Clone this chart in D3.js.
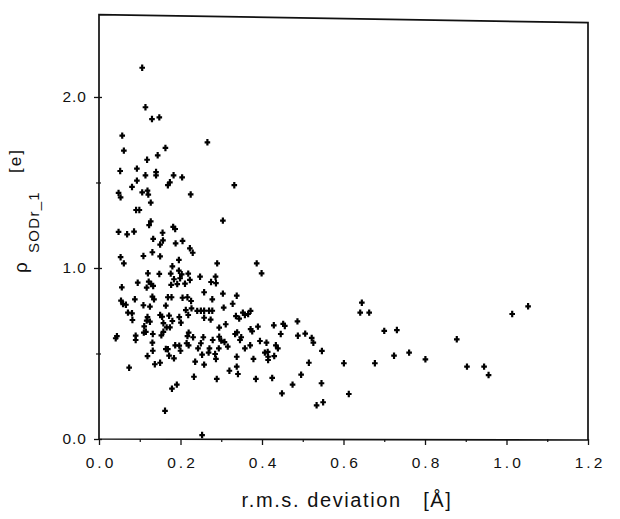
<!DOCTYPE html>
<html>
<head>
<meta charset="utf-8">
<script src="https://cdn.jsdelivr.net/npm/d3@7/dist/d3.min.js"></script>
<style>
  html, body { margin: 0; padding: 0; background: #fff; }
  svg { display: block; }
  text { font-family: "Liberation Sans", Arial, Helvetica, sans-serif; fill: #111; }
</style>
</head>
<body>
<svg id="chart" width="620" height="519"></svg>
<script>
// r.m.s. deviation [Å]
const rmsd = [
  0.106,0.114,0.130,0.148,0.057,0.266,0.061,0.163,0.118,0.144,
  0.052,0.093,0.114,0.140,0.140,0.183,0.204,0.093,0.081,0.169,
  0.174,0.332,0.048,0.053,0.106,0.119,0.121,0.225,0.127,0.091,
  0.099,0.127,0.123,0.304,0.182,0.187,0.048,0.069,0.086,0.156,
  0.133,0.157,0.150,0.188,0.205,0.223,0.230,0.131,0.109,0.150,
  0.196,0.053,0.061,0.180,0.120,0.148,0.176,0.196,0.203,0.219,
  0.184,0.199,0.223,0.192,0.211,0.177,0.095,0.122,0.128,0.133,
  0.117,0.056,0.131,0.135,0.169,0.178,0.205,0.217,0.226,0.054,
  0.059,0.066,0.088,0.109,0.125,0.164,0.213,0.227,0.241,0.071,
  0.081,0.082,0.150,0.155,0.172,0.197,0.119,0.117,0.125,0.111,
  0.158,0.180,0.201,0.219,0.166,0.174,0.041,0.044,0.090,0.090,
  0.110,0.115,0.132,0.153,0.158,0.220,0.217,0.231,0.131,0.132,
  0.119,0.164,0.169,0.187,0.197,0.200,0.215,0.220,0.243,0.172,
  0.184,0.236,0.137,0.150,0.074,0.233,0.191,0.179,0.162,0.256,
  0.250,0.279,0.295,0.300,0.308,0.334,0.339,0.349,0.346,0.376,
  0.446,0.488,0.271,0.269,0.285,0.294,0.316,0.358,0.371,0.395,
  0.411,0.434,0.439,0.253,0.287,0.258,0.338,0.379,0.407,0.414,
  0.415,0.415,0.430,0.338,0.320,0.341,0.289,0.385,0.425,0.475,
  0.449,0.290,0.387,0.399,0.248,0.286,0.287,0.275,0.258,0.304,
  0.338,0.278,0.328,0.306,0.250,0.258,0.270,0.278,0.258,0.274,
  0.336,0.344,0.353,0.358,0.366,0.372,0.295,0.311,0.372,0.390,
  0.429,0.452,0.456,0.487,0.253,0.645,0.641,0.663,0.506,0.522,
  0.526,0.547,0.515,0.496,0.546,0.534,0.550,0.601,0.613,0.677,
  0.700,0.731,0.724,0.761,0.801,0.878,0.903,0.945,0.956,1.014,
  1.053
];
// ρ SODr_1 [e]
const rho = [
  2.171,1.940,1.871,1.881,1.774,1.735,1.686,1.702,1.633,1.659,
  1.567,1.581,1.542,1.561,1.542,1.542,1.530,1.511,1.474,1.484,
  1.501,1.484,1.439,1.413,1.442,1.452,1.429,1.430,1.382,1.339,
  1.339,1.272,1.251,1.277,1.240,1.228,1.211,1.197,1.213,1.206,
  1.170,1.161,1.137,1.144,1.158,1.115,1.089,1.092,1.070,1.068,
  1.047,1.063,1.027,1.010,0.969,0.965,0.967,0.984,0.963,0.967,
  0.934,0.940,0.930,0.906,0.908,0.901,0.914,0.920,0.906,0.895,
  0.885,0.887,0.832,0.817,0.829,0.829,0.826,0.829,0.807,0.809,
  0.789,0.785,0.817,0.782,0.774,0.780,0.754,0.764,0.749,0.739,
  0.735,0.696,0.725,0.715,0.721,0.713,0.713,0.692,0.686,0.659,
  0.677,0.690,0.680,0.725,0.653,0.653,0.589,0.601,0.604,0.579,
  0.622,0.627,0.614,0.606,0.627,0.622,0.602,0.595,0.563,0.516,
  0.485,0.526,0.525,0.548,0.546,0.516,0.560,0.548,0.530,0.487,
  0.472,0.452,0.437,0.446,0.417,0.364,0.318,0.294,0.165,0.595,
  0.560,0.579,0.598,0.575,0.567,0.614,0.623,0.595,0.579,0.630,
  0.614,0.604,0.530,0.505,0.497,0.530,0.540,0.530,0.548,0.573,
  0.563,0.548,0.530,0.493,0.468,0.435,0.481,0.468,0.505,0.509,
  0.481,0.462,0.485,0.423,0.399,0.380,0.351,0.351,0.357,0.318,
  0.267,1.027,1.027,0.969,0.949,0.949,0.911,0.918,0.858,0.850,
  0.838,0.817,0.791,0.768,0.750,0.750,0.750,0.750,0.709,0.698,
  0.719,0.704,0.739,0.725,0.731,0.749,0.651,0.671,0.642,0.657,
  0.665,0.673,0.661,0.688,0.023,0.797,0.739,0.739,0.616,0.591,
  0.563,0.515,0.446,0.376,0.326,0.197,0.215,0.443,0.263,0.443,
  0.632,0.637,0.487,0.505,0.466,0.583,0.423,0.423,0.374,0.731,
  0.776
];
const xTicks = [0.0, 0.2, 0.4, 0.6, 0.8, 1.0, 1.2];
const xMinor = [0.1, 0.3, 0.5, 0.7, 0.9, 1.1];
const yTicks = [0.0, 1.0, 2.0];
const yMinor = [0.5, 1.5];

const svg = d3.select("#chart");
const x = d3.scaleLinear().domain([0, 1.2]).range([99, 588]);
const y = d3.scaleLinear().domain([0, 2.47]).range([439, 16.6]);

// frame (scanned original has a slightly tilted top edge)
const x0 = x(0), x1 = x(1.2), yb = y(0);
svg.append("path")
  .attr("d", `M${x0},${yb} L${x0},${y(2.47) - 2} L${x1},${y(2.47) + 6} L${x1},${yb + 1} Z`)
  .attr("fill", "none").attr("stroke", "#111").attr("stroke-width", 1.7);

// x axis
const gx = svg.append("g").attr("transform", `translate(0,${yb})`)
  .call(d3.axisBottom(x).tickValues(xTicks).tickFormat(d3.format(".1f")).tickSize(6).tickPadding(12));
gx.select(".domain").remove();
gx.selectAll("line").attr("stroke", "#111").attr("stroke-width", 1.3);
gx.selectAll("text").attr("font-size", 15.5).attr("letter-spacing", 3).attr("fill", "#111")
  .attr("dx", 1.5);
const gxm = svg.append("g").attr("transform", `translate(0,${yb})`)
  .call(d3.axisBottom(x).tickValues(xMinor).tickFormat("").tickSize(3));
gxm.select(".domain").remove();
gxm.selectAll("line").attr("stroke", "#111").attr("stroke-width", 1.2);

// y axis
const gy = svg.append("g").attr("transform", `translate(${x0},0)`)
  .call(d3.axisLeft(y).tickValues(yTicks).tickFormat(d3.format(".1f")).tickSize(5).tickPadding(7));
gy.select(".domain").remove();
gy.selectAll("line").attr("x1", 3).attr("stroke", "#111").attr("stroke-width", 1.3);
gy.selectAll("text").attr("font-size", 15.5).attr("letter-spacing", 1).attr("fill", "#111");
const gym = svg.append("g").attr("transform", `translate(${x0},0)`)
  .call(d3.axisLeft(y).tickValues(yMinor).tickFormat("").tickSize(3));
gym.select(".domain").remove();
gym.selectAll("line").attr("x1", 2).attr("stroke", "#111").attr("stroke-width", 1.2);

// points (+ markers)
const pts = svg.append("g");
const data = rmsd.map((v, i) => [v, rho[i]]);
pts.selectAll("path").data(data).enter().append("path")
  .attr("transform", d => `translate(${x(d[0])},${y(d[1])})`)
  .attr("d", "M-2.8,0H2.8M0,-3.2V3.2")
  .attr("stroke", "#000").attr("stroke-width", 2.2).attr("fill", "none");

// axis titles
svg.append("text").attr("x", 347).attr("y", 507).attr("text-anchor", "middle")
  .attr("font-size", 20).attr("letter-spacing", 1.6).attr("xml:space", "preserve")
  .text("r.m.s. deviation   [Å]");

const yl = svg.append("g");
yl.append("text").attr("transform", "translate(27,273) rotate(-90)")
  .attr("font-size", 19).text("ρ");
yl.append("text").attr("transform", "translate(39,253) rotate(-90)")
  .attr("font-size", 15).attr("letter-spacing", 1.3).text("SODr_1");
yl.append("text").attr("transform", "translate(21,173) rotate(-90)")
  .attr("font-size", 17).attr("letter-spacing", 2).text("[e]");
</script>
</body>
</html>
